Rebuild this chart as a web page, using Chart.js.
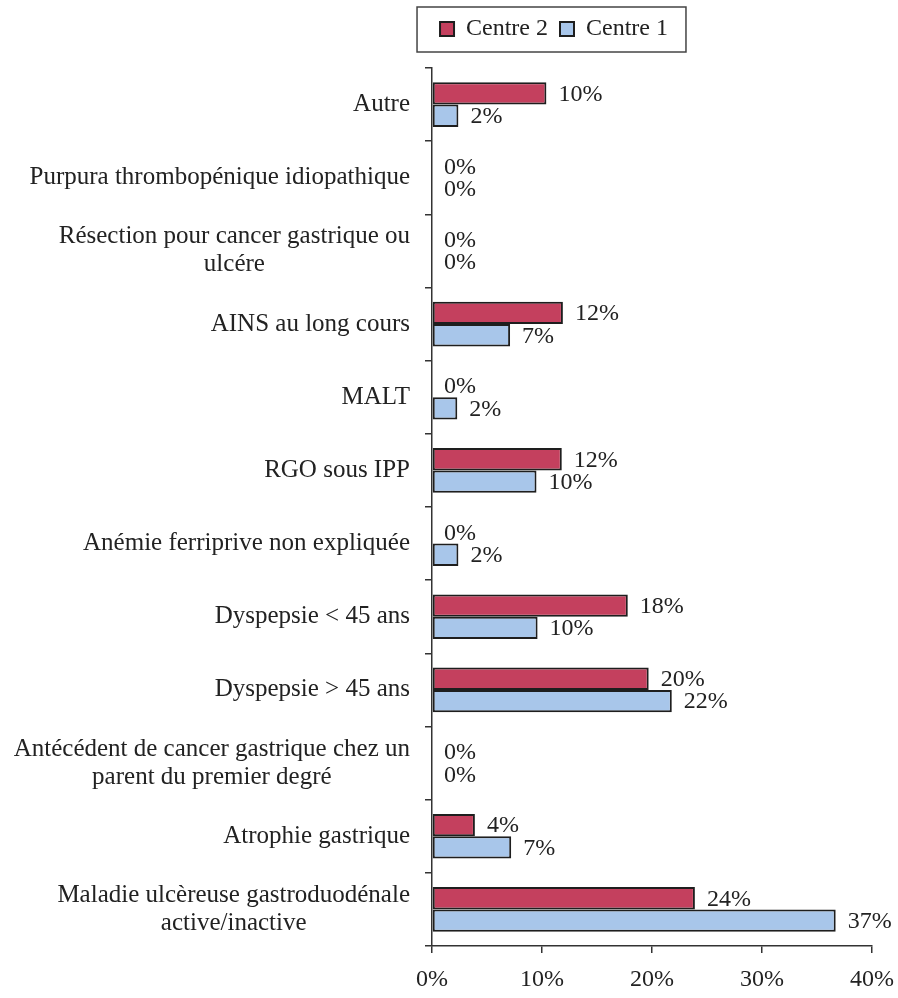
<!DOCTYPE html>
<html>
<head>
<meta charset="utf-8">
<script src="https://cdn.jsdelivr.net/npm/chart.js@4.4.1/dist/chart.umd.min.js"></script>
<style>
html, body { margin: 0; padding: 0; background: #fff; }
</style>
</head>
<body>
<canvas id="myChart" width="898" height="998"></canvas>
<script>
// categories, top to bottom
var categories = [
    'Autre',
    'Purpura thrombopénique idiopathique',
    ['Résection pour cancer gastrique ou', 'ulcére'],
    'AINS au long cours',
    'MALT',
    'RGO sous IPP',
    'Anémie ferriprive non expliquée',
    'Dyspepsie < 45 ans',
    'Dyspepsie > 45 ans',
    ['Antécédent de cancer gastrique chez un', 'parent du premier degré'],
    'Atrophie gastrique',
    ['Maladie ulcèreuse gastroduodénale', 'active/inactive']
];
var seriesNames = ['Centre 2', 'Centre 1'];
var centre2 = [10.4, 0, 0, 11.9, 0, 11.8, 0, 17.8, 19.7, 0, 3.9, 23.9];
var centre1 = [2.4, 0, 0, 7.1, 2.3, 9.5, 2.4, 9.6, 21.8, 0, 7.2, 36.7];
var xTicks = [0, 10, 20, 30, 40];

var FONT = '"Liberation Serif", "Times New Roman", serif';
var TEXT = '#222';

// value labels right of every bar
var valueLabels = {
    id: 'valueLabels',
    afterDatasetsDraw(chart) {
        var ctx = chart.ctx;
        ctx.save();
        ctx.font = '24px ' + FONT;
        ctx.fillStyle = TEXT;
        ctx.textAlign = 'left';
        ctx.textBaseline = 'middle';
        chart.data.datasets.forEach((ds, d) => {
            chart.getDatasetMeta(d).data.forEach((bar, i) => {
                ctx.fillText(Math.round(ds.data[i]) + '%', bar.x + 12, bar.y + 1);
            });
        });
        ctx.restore();
    }
};

// category labels: block right aligned, lines centred on each other
var categoryLabels = {
    id: 'categoryLabels',
    afterDraw(chart) {
        var ctx = chart.ctx;
        var yScale = chart.scales.y;
        var right = yScale.right - 22;
        ctx.save();
        ctx.font = '25px ' + FONT;
        ctx.fillStyle = TEXT;
        ctx.textAlign = 'center';
        ctx.textBaseline = 'middle';
        categories.forEach((lab, i) => {
            var lines = Array.isArray(lab) ? lab : [lab];
            var widest = 0;
            lines.forEach(l => { widest = Math.max(widest, ctx.measureText(l).width); });
            var y = yScale.getPixelForValue(i);
            lines.forEach((l, k) => {
                ctx.fillText(l, right - widest / 2, y + (k - (lines.length - 1) / 2) * 28);
            });
        });
        ctx.restore();
    }
};

// legend: a bit more room below, moved right, framed
var legendBox = {
    id: 'legendBox',
    beforeLayout(chart) {
        var lg = chart.legend;
        if (lg && !lg._extraHeight) {
            var fit = lg.fit.bind(lg);
            lg.fit = function () { fit(); this.height += 17; };
            lg._extraHeight = true;
        }
    },
    afterLayout(chart) {
        chart.legend.left += 118;
        chart.legend.right += 118;
    },
    afterDraw(chart) {
        var hb = chart.legend.legendHitBoxes;
        if (!hb || !hb.length) return;
        var left = Math.min.apply(null, hb.map(h => h.left)) - 23;
        var right = Math.max.apply(null, hb.map(h => h.left + h.width)) + 18;
        var top = hb[0].top - 10;
        var bottom = hb[0].top + hb[0].height + 11;
        var ctx = chart.ctx;
        ctx.save();
        ctx.strokeStyle = '#444';
        ctx.lineWidth = 1.5;
        ctx.strokeRect(left, top, right - left, bottom - top);
        ctx.restore();
    }
};

var ctx = document.getElementById('myChart').getContext('2d');
var chart = new Chart(ctx, {
    type: 'bar',
    data: {
        labels: categories,
        datasets: [{
            label: seriesNames[0],
            data: centre2,
            backgroundColor: '#c4405e',
            borderColor: '#1e1e1e',
            borderWidth: 2,
            borderSkipped: false
        }, {
            label: seriesNames[1],
            data: centre1,
            backgroundColor: '#a8c6ea',
            borderColor: '#1e1e1e',
            borderWidth: 2,
            borderSkipped: false
        }]
    },
    options: {
        indexAxis: 'y',
        responsive: false,
        animation: false,
        categoryPercentage: 0.61,
        barPercentage: 1.0,
        layout: { padding: { top: 5, right: 26, left: 0, bottom: 0 } },
        plugins: {
            tooltip: { enabled: false },
            legend: {
                position: 'top',
                labels: {
                    font: { family: FONT, size: 24 },
                    color: TEXT,
                    boxWidth: 14,
                    boxHeight: 14,
                    padding: 12
                }
            }
        },
        scales: {
            x: {
                min: xTicks[0],
                max: xTicks[xTicks.length - 1],
                afterBuildTicks(scale) {
                    scale.ticks = xTicks.map(v => ({ value: v }));
                },
                afterFit(scale) {
                    scale.height = 52;
                    scale.paddingLeft = 0;
                    scale.paddingRight = 0;
                },
                ticks: {
                    callback: v => v + '%',
                    font: { family: FONT, size: 24 },
                    color: TEXT,
                    padding: 12,
                    maxRotation: 0
                },
                grid: { drawOnChartArea: false, drawTicks: true, tickLength: 7, color: '#333', lineWidth: 1.5 },
                border: { color: '#333', width: 1.5 }
            },
            y: {
                afterFit(scale) { scale.width = 432; },
                ticks: { display: false },
                grid: { drawOnChartArea: false, drawTicks: true, tickLength: 7, color: '#333', lineWidth: 1.5, offset: true },
                border: { color: '#333', width: 1.5 }
            }
        }
    },
    plugins: [valueLabels, categoryLabels, legendBox]
});
</script>
</body>
</html>
